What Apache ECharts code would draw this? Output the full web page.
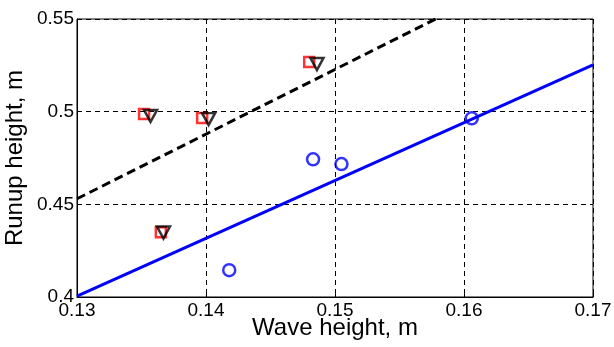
<!DOCTYPE html>
<html>
<head>
<meta charset="utf-8">
<script src="https://cdn.jsdelivr.net/npm/echarts@6/dist/echarts.min.js"></script>
<style>
  html, body { margin: 0; padding: 0; background: #fff; }
  #chart { width: 614px; height: 347px; }
</style>
</head>
<body>
<div id="chart"></div>
<script>
// measured points (wave height, runup height)
const squarePts = [[0.1352, 0.4987], [0.1397, 0.4966], [0.1480, 0.5268], [0.1365, 0.4350]];
const trianglePts = [[0.1357, 0.4977], [0.1402, 0.4960], [0.1486, 0.5257], [0.1367, 0.4348]];
const circlePts = [[0.1418, 0.4145], [0.1483, 0.4743], [0.1505, 0.4717], [0.1606, 0.4964]];
// fitted lines
const solidLine = [[0.13, 0.4005], [0.17, 0.5252]];
const dashedLine = [[0.13, 0.4530], [0.1578, 0.5500]];
// axes
const xTicks = [0.13, 0.14, 0.15, 0.16, 0.17];
const yTicks = [0.4, 0.45, 0.5, 0.55];

const chart = echarts.init(document.getElementById("chart"), null, { renderer: "canvas" });
const font = "Liberation Sans, Arial, sans-serif";
const fmt = (v) => String(Math.round(v * 1000) / 1000);

chart.setOption({
  animation: false,
  grid: {
    left: 77, right: 21, top: 19, bottom: 50,
    containLabel: false, outerBoundsMode: "none",
    show: true, borderColor: "#000", borderWidth: 1, backgroundColor: "#fff"
  },
  xAxis: {
    type: "value",
    min: xTicks[0], max: xTicks[xTicks.length - 1], interval: 0.01,
    name: "Wave height, m", nameLocation: "middle", nameGap: 19, nameMoveOverlap: false,
    nameTextStyle: { fontFamily: font, fontSize: 24, color: "#000" },
    axisLine: { show: true, lineStyle: { color: "#000", width: 1 } },
    axisTick: { show: true, inside: true, length: 4, lineStyle: { color: "#000" } },
    axisLabel: { fontFamily: font, fontSize: 19, color: "#000", margin: 4, formatter: fmt },
    splitLine: { show: true, lineStyle: { color: "#000", width: 1, type: [5, 4] } }
  },
  yAxis: {
    type: "value",
    min: yTicks[0], max: yTicks[yTicks.length - 1], interval: 0.05,
    name: "Runup height, m", nameLocation: "middle", nameGap: 50, nameMoveOverlap: false,
    nameTextStyle: { fontFamily: font, fontSize: 24, color: "#000" },
    axisLine: { show: true, lineStyle: { color: "#000", width: 1 } },
    axisTick: { show: true, inside: true, length: 4, lineStyle: { color: "#000" } },
    axisLabel: { fontFamily: font, fontSize: 19, color: "#000", margin: 3, formatter: fmt },
    splitLine: { show: true, lineStyle: { color: "#000", width: 1, type: [5, 4] } }
  },
  series: [
    {
      type: "line", data: dashedLine, symbol: "none", clip: true,
      lineStyle: { color: "#000", width: 3, type: [9, 5] }, z: 2
    },
    {
      type: "line", data: solidLine, symbol: "none", clip: true,
      lineStyle: { color: "#0000ff", width: 3 }, z: 2
    },
    {
      type: "scatter", data: squarePts, symbol: "rect", symbolSize: 10,
      itemStyle: { color: "rgba(255,255,255,0)", borderColor: "#ff0000", borderWidth: 2.5 }, z: 3
    },
    {
      type: "scatter", data: trianglePts, symbol: "triangle", symbolRotate: 180, symbolSize: [13, 12],
      itemStyle: { color: "rgba(255,255,255,0)", borderColor: "#000", borderWidth: 2.5 }, z: 4
    },
    {
      type: "scatter", data: circlePts, symbol: "circle", symbolSize: 12,
      itemStyle: { color: "rgba(255,255,255,0)", borderColor: "#0000ff", borderWidth: 2.5 }, z: 3
    }
  ]
});
</script>
</body>
</html>
